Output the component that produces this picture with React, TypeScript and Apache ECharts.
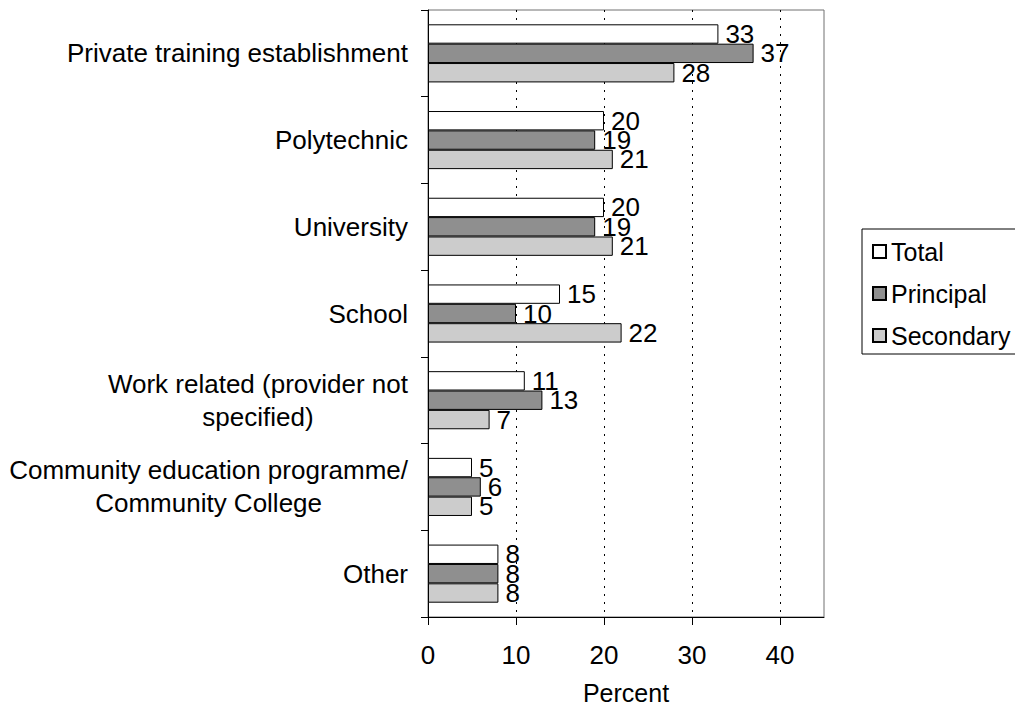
import React, { useEffect, useRef } from "react";
import * as echarts from "echarts";

const categories: string[] = [
  "Private training establishment",
  "Polytechnic",
  "University",
  "School",
  "Work related (provider not\nspecified)",
  "Community education programme/\nCommunity College",
  "Other",
];
const seriesNames: string[] = ["Total", "Principal", "Secondary"];
const totalValues: number[] = [33, 20, 20, 15, 11, 5, 8];
const principalValues: number[] = [37, 19, 19, 10, 13, 6, 8];
const secondaryValues: number[] = [28, 21, 21, 22, 7, 5, 8];
const xTicks: number[] = [0, 10, 20, 30, 40];

const FONT = "'Liberation Sans', Arial, sans-serif";
const FS = 26;

export default function App() {
  const ref = useRef<HTMLDivElement>(null);
  useEffect(() => {
    if (!ref.current) return;
    const chart = echarts.init(ref.current, undefined, { renderer: "svg" });
    const colors = ["#ffffff", "#8f8f8f", "#cccccc"];
    const values = [totalValues, principalValues, secondaryValues];
    chart.setOption({
      animation: false,
      textStyle: { fontFamily: FONT },
      grid: {
        left: 428,
        top: 10,
        right: 191,
        bottom: 91,
        show: true,
        borderColor: "#707070",
        borderWidth: 1,
        containLabel: false,
        outerBoundsMode: "none",
      },
      legend: {
        orient: "vertical",
        left: 862,
        top: 229,
        data: seriesNames,
        icon: "rect",
        itemWidth: 13,
        itemHeight: 13,
        itemGap: 15,
        padding: [9, 60, 5, 10],
        borderColor: "#000",
        borderWidth: 1,
        textStyle: { fontSize: 25, color: "#000", fontFamily: FONT, lineHeight: 27 },
      },
      xAxis: {
        type: "value",
        min: 0,
        max: 45,
        interval: 10,
        name: "Percent",
        nameLocation: "middle",
        nameGap: 76,
        nameTextStyle: {
          fontSize: 25,
          color: "#000",
          fontFamily: FONT,
          verticalAlign: "middle",
          lineHeight: 20,
        },
        axisLine: { show: true, lineStyle: { color: "#000", width: 1 } },
        axisTick: { show: true, length: 8, lineStyle: { color: "#000" }, customValues: xTicks },
        axisLabel: { fontSize: FS, color: "#000", margin: 25, customValues: xTicks },
        splitLine: { show: true, lineStyle: { color: "#000", type: [2, 6], width: 1 } },
      },
      yAxis: {
        type: "category",
        data: categories,
        inverse: true,
        axisLine: { show: true, lineStyle: { color: "#000", width: 1 } },
        axisTick: { show: true, length: 7, alignWithLabel: false, lineStyle: { color: "#000" } },
        axisLabel: {
          fontSize: FS,
          color: "#000",
          margin: 20,
          formatter: (v: string) =>
            v.indexOf("\n") >= 0
              ? v.split("\n").map((s) => "{c|" + s + "}").join("\n")
              : v,
          rich: {
            c: { align: "center", fontSize: FS, lineHeight: 33, color: "#000", fontFamily: FONT },
          },
        },
        splitLine: { show: false },
      },
      series: seriesNames.map((name, i) => ({
        name,
        type: "bar",
        data: values[i],
        barGap: "0%",
        barCategoryGap: "33%",
        itemStyle: { color: colors[i], borderColor: "#000", borderWidth: 1 },
        label: {
          show: true,
          position: "right",
          distance: 7,
          fontSize: FS,
          color: "#000",
          fontFamily: FONT,
        },
      })),
    });
    return () => chart.dispose();
  }, []);
  return (
    <div
      ref={ref}
      style={{ position: "fixed", left: 0, top: 0, width: 1015, height: 708, background: "#fff" }}
    />
  );
}
